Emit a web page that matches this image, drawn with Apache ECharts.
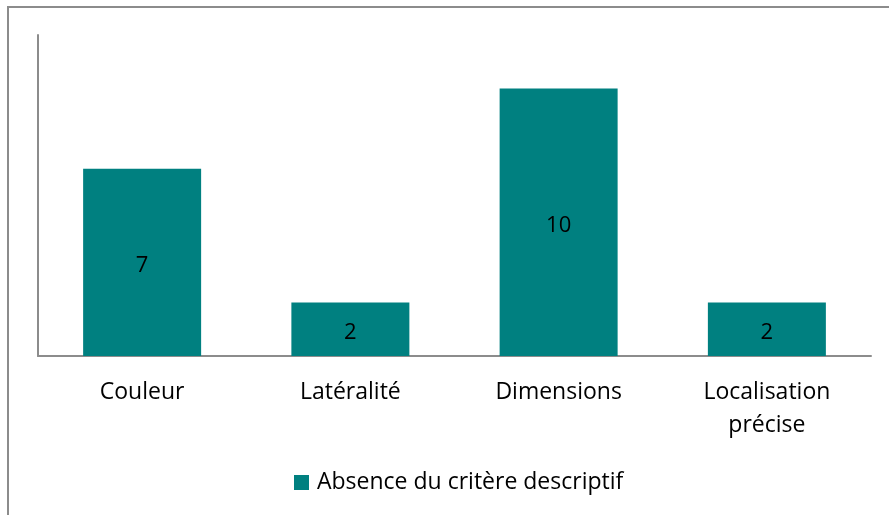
<!DOCTYPE html>
<html><head><meta charset="utf-8">
<script src="https://cdn.jsdelivr.net/npm/echarts@6/dist/echarts.min.js"></script>
<style>html,body{margin:0;padding:0;background:#fff}#c{width:889px;height:515px}</style>
</head><body><div id="c"></div>
<script>
const categories = ['Couleur', 'Latéralité', 'Dimensions', 'Localisation\nprécise'];
const values = [7, 2, 10, 2];
const seriesName = 'Absence du critère descriptif';

const chart = echarts.init(document.getElementById('c'), null, {renderer: 'canvas'});
const font = '"Open Sans", sans-serif';
chart.setOption({
  animation: false,
  textStyle: {fontFamily: font},
  graphic: [{
    type: 'rect', silent: true,
    shape: {x: 8, y: 7, width: 900, height: 600},
    style: {fill: 'none', stroke: '#8c8c8c', lineWidth: 2}
  }],
  grid: {left: 38, top: 35, right: 18, bottom: 159, containLabel: false},
  legend: {
    top: 466, left: 289,
    itemWidth: 15, itemHeight: 15, itemGap: 6,
    icon: 'rect',
    textStyle: {fontSize: 23, color: '#000', fontFamily: font, padding: [0, 0, 0, 3]},
    data: [seriesName]
  },
  xAxis: {
    type: 'category', data: categories,
    axisLine: {lineStyle: {color: '#8c8c8c', width: 2}},
    axisTick: {show: false},
    axisLabel: {fontSize: 23, color: '#000', margin: 20, lineHeight: 33, fontFamily: font}
  },
  yAxis: {
    type: 'value', min: 0, max: 12, interval: 2,
    axisLine: {show: true, lineStyle: {color: '#8c8c8c', width: 2}},
    axisTick: {show: false}, axisLabel: {show: false},
    splitLine: {show: false}
  },
  series: [{
    name: seriesName, type: 'bar', data: values,
    barWidth: 118,
    itemStyle: {color: '#008080'},
    label: {show: true, position: 'inside', offset: [0, 3], fontSize: 22, color: '#000', fontFamily: font}
  }]
});
</script></body></html>
